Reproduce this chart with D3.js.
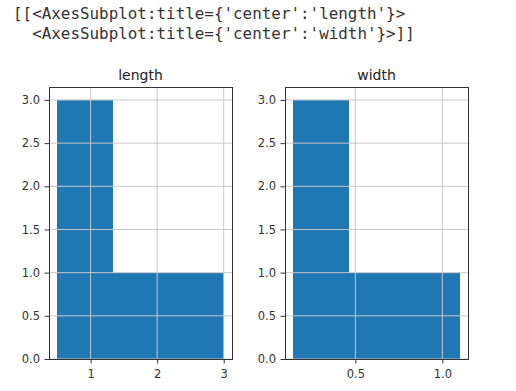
<!DOCTYPE html>
<html><head><meta charset="utf-8">
<script src="https://cdn.jsdelivr.net/npm/d3@7"></script>
<style>
body{margin:0;background:#fff;}
svg{display:block;}
</style></head>
<body>
<svg id="c" width="516" height="391"></svg>
<script>
const outputLines = ["[[<AxesSubplot:title={'center':'length'}>", "  <AxesSubplot:title={'center':'width'}>]]"];
const titles = ["length", "width"];
const lengthEdges = [0.5, 1.3333, 2.1667, 3.0];
const lengthCounts = [3, 1, 1];
const widthEdges = [0.143, 0.462, 0.781, 1.1];
const widthCounts = [3, 1, 1];
const lengthTicks = [1, 2, 3];
const widthTicks = [0.5, 1.0];
const yTicks = [0, 0.5, 1.0, 1.5, 2.0, 2.5, 3.0];

const svg = d3.select("#c");
const mono = "'DejaVu Sans Mono', 'Liberation Mono', monospace";
svg.selectAll("text.out").data(outputLines).join("text")
  .attr("class","out")
  .attr("x", 13).attr("y", (d,i)=>19 + i*20)
  .attr("font-family", mono).attr("font-size", 15.9)
  .attr("fill", "#333")
  .style("white-space","pre")
  .text(d=>d);

const panels = [
  {title: titles[0], edges: lengthEdges, counts: lengthCounts, ticks: lengthTicks, fmt: d3.format("d"), x0: 49, x1: 232},
  {title: titles[1], edges: widthEdges, counts: widthCounts, ticks: widthTicks, fmt: d3.format(".1f"), x0: 285, x1: 468}
];
const axTop = 87, axBottom = 359;
const sans = "'DejaVu Sans', sans-serif";

panels.forEach(p => {
  const lo = p.edges[0], hi = p.edges[p.edges.length-1];
  const m = (hi - lo) * 0.05;
  const x = d3.scaleLinear().domain([lo - m, hi + m]).range([p.x0, p.x1]);
  const ymax = d3.max(p.counts) * 1.05;
  const y = d3.scaleLinear().domain([0, ymax]).range([axBottom, axTop]);
  const g = svg.append("g");
  const bins = p.counts.map((c,i)=>({x0:p.edges[i], x1:p.edges[i+1], c}));
  g.selectAll("rect.bar").data(bins).join("rect")
    .attr("x", d=>x(d.x0)).attr("width", d=>x(d.x1)-x(d.x0))
    .attr("y", d=>y(d.c)).attr("height", d=>y(0)-y(d.c))
    .attr("fill", "#1f77b4").attr("shape-rendering","crispEdges");
  g.selectAll("line.gx").data(p.ticks).join("line")
    .attr("x1", d=>x(d)).attr("x2", d=>x(d)).attr("y1", axTop).attr("y2", axBottom)
    .attr("stroke", "#c8c8c8").attr("stroke-width", 1);
  g.selectAll("line.gy").data(yTicks).join("line")
    .attr("y1", d=>y(d)).attr("y2", d=>y(d)).attr("x1", p.x0).attr("x2", p.x1)
    .attr("stroke", "#c8c8c8").attr("stroke-width", 1);
  const xa = g.append("g").attr("transform", `translate(0,${axBottom})`)
    .call(d3.axisBottom(x).tickValues(p.ticks).tickFormat(p.fmt).tickSize(4.5).tickPadding(6));
  const ya = g.append("g").attr("transform", `translate(${p.x0},0)`)
    .call(d3.axisLeft(y).tickValues(yTicks).tickFormat(d3.format(".1f")).tickSize(4.5).tickPadding(4.5));
  [xa, ya].forEach(a => {
    a.select(".domain").remove();
    a.selectAll("text").attr("font-family", sans).attr("font-size", 11.5).attr("fill", "#333");
    a.selectAll("line").attr("stroke", "#333");
  });
  g.append("rect").attr("x", p.x0).attr("y", axTop).attr("width", p.x1-p.x0).attr("height", axBottom-axTop)
    .attr("fill","none").attr("stroke","#333").attr("stroke-width",1).attr("shape-rendering","crispEdges");
  g.append("text").attr("x", (p.x0+p.x1)/2).attr("y", 80).attr("text-anchor","middle")
    .attr("font-family", sans).attr("font-size", 14).attr("fill","#222").text(p.title);
});
</script>
</body></html>
